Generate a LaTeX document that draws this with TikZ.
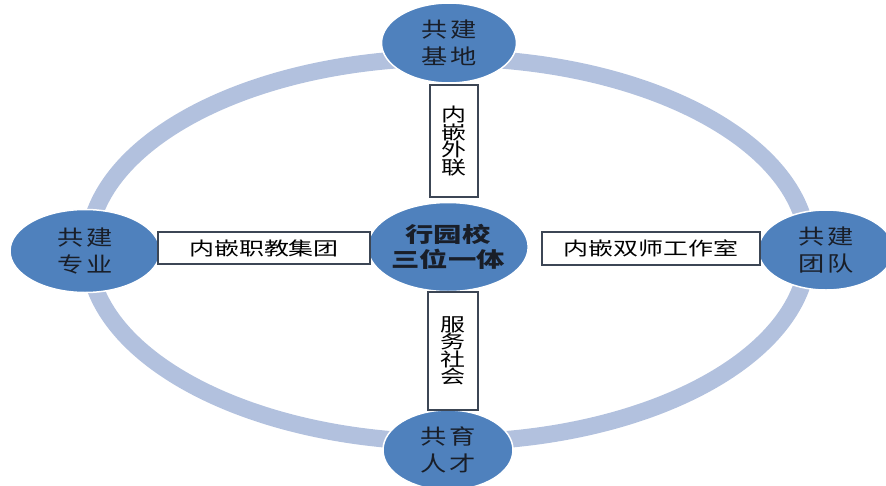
\documentclass[tikz,border=0pt]{standalone}
\usepackage{fontspec}
\usetikzlibrary{shapes.geometric}
\setmainfont{Noto Sans CJK SC}
\newfontfamily\cjk[FakeStretch=1.35]{Noto Sans CJK SC}
\newfontfamily\cjkwide[FakeStretch=1.25,LetterSpace=12]{Noto Sans CJK SC}
\definecolor{ringblue}{RGB}{178,193,222}
\definecolor{nodeblue}{RGB}{79,129,189}
\definecolor{boxline}{RGB}{60,70,85}
\definecolor{textdark}{RGB}{25,30,40}
\tikzset{
  hub/.style={ellipse, fill=nodeblue, draw=white, line width=1.5pt, text=textdark, align=center, inner sep=0pt,
    minimum width=135pt, minimum height=80pt, font=\cjkwide\fontsize{21}{27}\selectfont},
  linkbox/.style={rectangle, fill=white, draw=boxline, line width=1.2pt, text=black, align=center, inner sep=0pt,
    font=\cjk\fontsize{18.5}{17.5}\selectfont},
}

\begin{document}
\begin{tikzpicture}[x=1pt,y=-1pt]
    \useasboundingbox (0,0) rectangle (886,485);
    \clip (0,0) rectangle (886,485);
    \draw[ringblue, line width=17pt] (448,250) ellipse [x radius=360, y radius=192]; % ring
    \node[hub] (jidi) at (449,43) {共建\\基地}; % top
    \node[hub, minimum width=150pt, minimum height=83pt] (zhuanye) at (85,251) {共建\\专业}; % left
    \node[hub] (tuandui) at (826,250) {共建\\团队}; % right
    \node[hub, minimum width=130pt] (rencai) at (448,450) {共育\\人才}; % bottom
    \node[hub, minimum width=140pt, minimum height=89pt, font=\cjk\bfseries\fontsize{21}{25}\selectfont] (yiti) at (448,247) {行园校\\三位一体}; % center
    \node[linkbox, minimum width=48pt, minimum height=112pt] (waili) at (454,141) {内\\嵌\\外\\联}; % top box
    \node[linkbox, minimum width=50pt, minimum height=118pt] (shehui) at (453,351) {服\\务\\社\\会}; % bottom box
    \node[linkbox, minimum width=212pt, minimum height=32pt] (jituan) at (264,248) {内嵌职教集团}; % left box
    \node[linkbox, minimum width=218pt, minimum height=33pt] (gongzuoshi) at (651,248.5) {内嵌双师工作室}; % right box
\end{tikzpicture}
\end{document}
